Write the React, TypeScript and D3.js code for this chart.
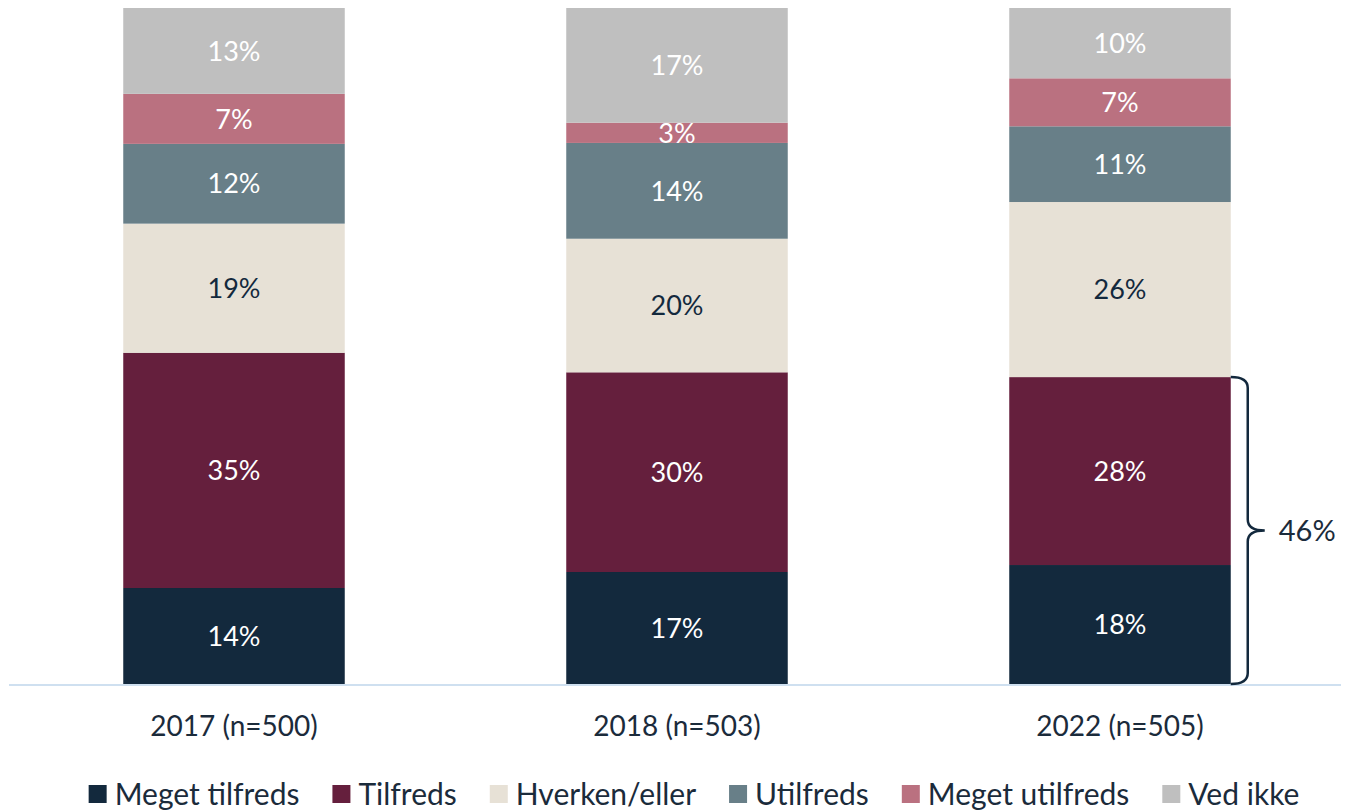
import React from "react";
import * as d3 from "d3";

const categories = ["2017 (n=500)", "2018 (n=503)", "2022 (n=505)"];
const seriesNames = ["Meget tilfreds", "Tilfreds", "Hverken/eller", "Utilfreds", "Meget utilfreds", "Ved ikke"];
const colors = ["#13293d", "#651f3d", "#e7e1d6", "#687f88", "#ba7180", "#bfbfbf"];
const labelColors = ["#ffffff", "#ffffff", "#13293d", "#ffffff", "#ffffff", "#ffffff"];

// values per series, in category order
const megetTilfreds = [14.2, 16.6, 17.6];
const tilfreds = [34.8, 29.6, 27.8];
const hverkenEller = [19.1, 19.8, 25.9];
const utilfreds = [11.8, 14.2, 11.2];
const megetUtilfreds = [7.4, 3.0, 7.1];
const vedIkke = [12.7, 17.0, 10.4];

const seriesValues = [megetTilfreds, tilfreds, hverkenEller, utilfreds, megetUtilfreds, vedIkke];

const W = 1345;
const H = 810;
const FONT = "Lato, 'Open Sans', sans-serif";
const TEXT = "#1b2b3b";

export default function App() {
  const rows = categories.map((c, i) => {
    const r: any = { cat: c };
    seriesNames.forEach((s, j) => (r[s] = seriesValues[j][i]));
    return r;
  });
  const stacked = d3.stack<any>().keys(seriesNames).offset(d3.stackOffsetExpand)(rows);

  const x = d3.scaleBand<string>().domain(categories).range([12.5, 1341.5]).paddingInner(0.5).paddingOuter(0.25);
  const y = d3.scaleLinear().domain([0, 1]).range([684, 8]);

  // brace over bottom two segments of the last category
  const lastCat = categories[categories.length - 1];
  const li = categories.length - 1;
  const braceTop = y(stacked[1][li][1]);
  const braceBottom = y(0);
  const bx0 = (x(lastCat) as number) + x.bandwidth();
  const bx1 = bx0 + 17;
  const tipX = bx1 + 17;
  const mid = (braceTop + braceBottom) / 2;
  const r = 11;
  const bracePath = `M${bx0},${braceTop} Q${bx1},${braceTop} ${bx1},${braceTop + r} L${bx1},${mid - r} Q${bx1},${mid} ${tipX},${mid} Q${bx1},${mid} ${bx1},${mid + r} L${bx1},${braceBottom - r} Q${bx1},${braceBottom} ${bx0},${braceBottom}`;
  const braceLabel = Math.round(megetTilfreds[li]) + Math.round(tilfreds[li]);

  // legend layout
  const legendFont = 30;
  const ctx = document.createElement("canvas").getContext("2d")!;
  ctx.font = `${legendFont}px Lato`;
  const sq = 18;
  const gapSqText = 8;
  const gapItems = 33;
  const widths = seriesNames.map((s) => sq + gapSqText + ctx.measureText(s).width);
  const total = d3.sum(widths) + gapItems * (seriesNames.length - 1);
  let cx = 694 - total / 2;
  const legendItems = seriesNames.map((s, i) => {
    const item = { name: s, color: colors[i], x: cx };
    cx += widths[i] + gapItems;
    return item;
  });

  return (
    <svg width={W} height={H} style={{ position: "absolute", left: 0, top: 0, background: "#fff" }} fontFamily={FONT}>
      {stacked.map((layer, j) => (
        <g key={layer.key} fill={colors[j]}>
          {layer.map((d, i) => (
            <rect
              key={i}
              x={x(categories[i])}
              y={y(d[1])}
              width={x.bandwidth()}
              height={y(d[0]) - y(d[1])}
            />
          ))}
        </g>
      ))}
      {stacked.map((layer, j) => (
        <g key={"l" + layer.key}>
          {layer.map((d, i) => (
            <text
              key={i}
              x={(x(categories[i]) as number) + x.bandwidth() / 2}
              y={(y(d[0]) + y(d[1])) / 2}
              dy="0.36em"
              textAnchor="middle"
              fill={labelColors[j]}
              fontSize={27}
            >
              {Math.round(seriesValues[j][i]) + "%"}
            </text>
          ))}
        </g>
      ))}
      <line x1={9} x2={1341} y1={685} y2={685} stroke="#cfe0f0" strokeWidth={2} />
      {categories.map((c) => (
        <text
          key={c}
          x={(x(c) as number) + x.bandwidth() / 2}
          y={726}
          dy="0.36em"
          textAnchor="middle"
          fill={TEXT}
          fontSize={28}
        >
          {c}
        </text>
      ))}
      <path d={bracePath} fill="none" stroke="#13293d" strokeWidth={2.5} />
      <text x={tipX + 14} y={mid} dy="0.36em" fill={TEXT} fontSize={29}>
        {braceLabel + "%"}
      </text>
      {legendItems.map((it) => (
        <g key={it.name} transform={`translate(${it.x},794)`}>
          <rect x={0} y={-sq / 2} width={sq} height={sq} fill={it.color} />
          <text x={sq + gapSqText} y={0} dy="0.36em" fill={TEXT} fontSize={legendFont}>
            {it.name}
          </text>
        </g>
      ))}
    </svg>
  );
}
